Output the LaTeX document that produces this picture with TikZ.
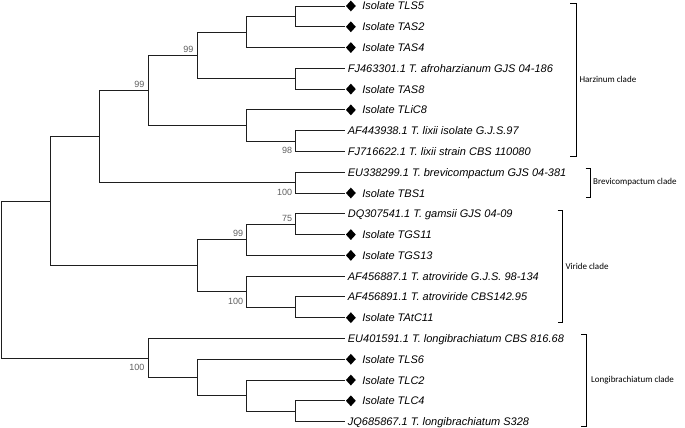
\documentclass[tikz,border=0pt]{standalone}
\usepackage{fontspec}
\usetikzlibrary{shapes.geometric,calc}
\newfontfamily\leaffont{Liberation Sans}
\newfontfamily\cladefont{Carlito}
\definecolor{bsgray}{RGB}{95,95,95}
\definecolor{treeline}{RGB}{30,30,30}
\begin{document}
\begin{tikzpicture}[x=1pt,y=-1pt,
  branch/.style={draw=treeline,line width=0.9pt},
  bracket/.style={draw=black,line width=0.8pt},
  taxon/.style={anchor=base west,inner sep=0pt,font=\leaffont\itshape\fontsize{11}{13}\selectfont},
  isomark/.style={shape=diamond,fill=black,inner sep=0pt,minimum width=10pt,minimum height=11pt,anchor=west},
  bs/.style={anchor=east,inner sep=0pt,text=bsgray,font=\leaffont\fontsize{9}{10}\selectfont},
  clade/.style={anchor=west,inner sep=0pt,font=\cladefont\fontsize{9}{11}\selectfont}]
\useasboundingbox (0,0) rectangle (685,428);
% leaves
\coordinate (l0) at (345.05,6);
\coordinate (l1) at (345.05,26.78);
\coordinate (l2) at (345.05,47.56);
\coordinate (l3) at (345.05,68.34);
\coordinate (l4) at (345.05,89.12);
\coordinate (l5) at (345.05,109.9);
\coordinate (l6) at (345.05,130.68);
\coordinate (l7) at (345.05,151.46);
\coordinate (l8) at (345.05,172.24);
\coordinate (l9) at (345.05,193.02);
\coordinate (l10) at (345.05,213.8);
\coordinate (l11) at (345.05,234.58);
\coordinate (l12) at (345.05,255.36);
\coordinate (l13) at (345.05,276.14);
\coordinate (l14) at (345.05,296.92);
\coordinate (l15) at (345.05,317.7);
\coordinate (l16) at (345.05,338.48);
\coordinate (l17) at (345.05,359.26);
\coordinate (l18) at (345.05,380.04);
\coordinate (l19) at (345.05,400.82);
\coordinate (l20) at (345.05,421.6);
% internal nodes
\coordinate (nc) at (295.9,16.39);
\coordinate (na) at (246.75,31.975);
\coordinate (nb) at (295.9,78.73);
\coordinate (nhz1) at (197.6,55.35);
\coordinate (nd) at (295.9,141.07);
\coordinate (nhz2) at (246.75,125.49);
\coordinate (nhz) at (148.45,90.42);
\coordinate (nbr) at (295.9,182.63);
\coordinate (nh) at (99.3,136.53);
\coordinate (ne) at (295.9,224.19);
\coordinate (nv1) at (246.75,239.78);
\coordinate (nf) at (295.9,307.31);
\coordinate (nv2) at (246.75,291.73);
\coordinate (nv) at (197.6,265.75);
\coordinate (nA) at (50.15,201.14);
\coordinate (ni) at (295.9,411.21);
\coordinate (nhh) at (246.75,395.63);
\coordinate (ng) at (197.6,377.45);
\coordinate (nB) at (148.45,357.96);
\coordinate (root) at (1,279.55);
% branches
\draw[branch] (root) |- (nA);
\draw[branch] (root) |- (nB);
\draw[branch] (nA) |- (nh);
\draw[branch] (nA) |- (nv);
\draw[branch] (nh) |- (nhz);
\draw[branch] (nh) |- (nbr);
\draw[branch] (nhz) |- (nhz1);
\draw[branch] (nhz) |- (nhz2);
\draw[branch] (nhz1) |- (na);
\draw[branch] (nhz1) |- (nb);
\draw[branch] (na) |- (nc);
\draw[branch] (na) |- (l2);
\draw[branch] (nc) |- (l0);
\draw[branch] (nc) |- (l1);
\draw[branch] (nb) |- (l3);
\draw[branch] (nb) |- (l4);
\draw[branch] (nhz2) |- (l5);
\draw[branch] (nhz2) |- (nd);
\draw[branch] (nd) |- (l6);
\draw[branch] (nd) |- (l7);
\draw[branch] (nbr) |- (l8);
\draw[branch] (nbr) |- (l9);
\draw[branch] (nv) |- (nv1);
\draw[branch] (nv) |- (nv2);
\draw[branch] (nv1) |- (ne);
\draw[branch] (nv1) |- (l12);
\draw[branch] (ne) |- (l10);
\draw[branch] (ne) |- (l11);
\draw[branch] (nv2) |- (l13);
\draw[branch] (nv2) |- (nf);
\draw[branch] (nf) |- (l14);
\draw[branch] (nf) |- (l15);
\draw[branch] (nB) |- (l16);
\draw[branch] (nB) |- (ng);
\draw[branch] (ng) |- (l17);
\draw[branch] (ng) |- (nhh);
\draw[branch] (nhh) |- (l18);
\draw[branch] (nhh) |- (ni);
\draw[branch] (ni) |- (l19);
\draw[branch] (ni) |- (l20);
% isolate markers and labels
\foreach \l/\t in {l0/Isolate TLS5, l1/Isolate TAS2, l2/Isolate TAS4, l4/Isolate TAS8, l5/Isolate TLiC8, l9/Isolate TBS1, l11/Isolate TGS11, l12/Isolate TGS13, l15/Isolate TAtC11, l17/Isolate TLS6, l18/Isolate TLC2, l19/Isolate TLC4}{
  \node[isomark] (m\l) at ([xshift=0.6pt]\l) {};
  \node[taxon] (t\l) at ([xshift=17pt,yshift=-4pt]\l) {\t};
}
\foreach \l/\t in {l3/FJ463301.1 T. afroharzianum GJS 04-186, l6/AF443938.1 T. lixii isolate G.J.S.97, l7/FJ716622.1 T. lixii strain CBS 110080, l8/EU338299.1 T. brevicompactum GJS 04-381, l10/DQ307541.1 T. gamsii GJS 04-09, l13/AF456887.1 T. atroviride G.J.S. 98-134, l14/AF456891.1 T. atroviride CBS142.95, l16/EU401591.1 T. longibrachiatum CBS 816.68, l20/JQ685867.1 T. longibrachiatum S328}{
  \node[taxon] (t\l) at ([xshift=2.6pt,yshift=-4pt]\l) {\t};
}
% bootstrap values
\node[bs] (b1) at (144.5,84) {99};
\node[bs] (b2) at (193.5,49) {99};
\node[bs] (b3) at (292.3,150.7) {98};
\node[bs] (b4) at (292.3,192) {100};
\node[bs] (b5) at (292.3,218) {75};
\node[bs] (b6) at (243.3,233) {99};
\node[bs] (b7) at (243.3,301) {100};
\node[bs] (b8) at (144.5,367) {100};
% clade brackets
\coordinate (hzt) at (576,3);   \coordinate (hzb) at (576,156);
\coordinate (brt) at (590.7,168); \coordinate (brb) at (590.7,197);
\coordinate (vit) at (562.7,210); \coordinate (vib) at (562.7,322.7);
\coordinate (lot) at (586,334); \coordinate (lob) at (586,426.7);
\draw[bracket] ([xshift=-6pt]hzt) -- (hzt) -- (hzb) -- ([xshift=-6pt]hzb);
\draw[bracket] ([xshift=-5pt]brt) -- (brt) -- (brb) -- ([xshift=-5pt]brb);
\draw[bracket] ([xshift=-5pt]vit) -- (vit) -- (vib) -- ([xshift=-5pt]vib);
\draw[bracket] ([xshift=-5pt]lot) -- (lot) -- (lob) -- ([xshift=-5pt]lob);
\node[clade] (c1) at ([xshift=3.3pt]$(hzt)!0.5!(hzb)$) {Harzinum clade};
\node[clade] (c2) at ([xshift=2.3pt]$(brt)!0.5!(brb)$) {Brevicompactum clade};
\node[clade] (c3) at ([xshift=2.6pt]$(vit)!0.5!(vib)$) {Viride clade};
\node[clade] (c4) at ([xshift=5pt]$(lot)!0.5!(lob)$) {Longibrachiatum clade};
\end{tikzpicture}
\end{document}
